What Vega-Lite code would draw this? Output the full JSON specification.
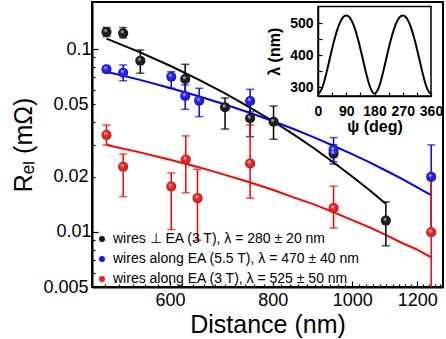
{
  "$schema": "https://vega.github.io/schema/vega-lite/v6.json",
  "width": 351,
  "height": 285,
  "autosize": {"type": "none"},
  "padding": {"left": 92, "top": 2, "right": 3, "bottom": 52},
  "config": {
    "view": {"stroke": "black", "strokeWidth": 2},
    "font": "Liberation Sans",
    "axis": {"labelFont": "Liberation Sans", "titleFont": "Liberation Sans", "domainColor": "black", "tickColor": "black", "labelColor": "black", "titleColor": "black", "grid": false, "labelOverlap": false, "labelFlush": false}
  },
  "datasets": {
    "pts": [
      {"s": "k", "x": 502, "y": 0.124, "lo": 0.117, "hi": 0.131},
      {"s": "k", "x": 526, "y": 0.122, "lo": 0.115, "hi": 0.131},
      {"s": "k", "x": 552, "y": 0.0863, "lo": 0.0737, "hi": 0.0987},
      {"s": "k", "x": 626, "y": 0.0686, "lo": 0.0546, "hi": 0.0825},
      {"s": "k", "x": 700, "y": 0.048, "lo": 0.0365, "hi": 0.054},
      {"s": "k", "x": 751, "y": 0.0418, "lo": 0.0332, "hi": 0.0504},
      {"s": "k", "x": 802, "y": 0.040, "lo": 0.0321, "hi": 0.0488},
      {"s": "k", "x": 949, "y": 0.0268, "lo": 0.0235, "hi": 0.030},
      {"s": "k", "x": 1099, "y": 0.01153, "lo": 0.0084, "hi": 0.0146},
      {"s": "b", "x": 502, "y": 0.0775, "lo": 0.0745, "hi": 0.0805},
      {"s": "b", "x": 526, "y": 0.0742, "lo": 0.0671, "hi": 0.0818},
      {"s": "b", "x": 602, "y": 0.0706, "lo": 0.061, "hi": 0.0752},
      {"s": "b", "x": 626, "y": 0.0554, "lo": 0.0468, "hi": 0.0636},
      {"s": "b", "x": 651, "y": 0.0522, "lo": 0.0427, "hi": 0.061},
      {"s": "b", "x": 751, "y": 0.052, "lo": 0.0454, "hi": 0.0602},
      {"s": "b", "x": 949, "y": 0.0281, "lo": 0.0242, "hi": 0.0328},
      {"s": "b", "x": 1248, "y": 0.020, "lo": 0.0101, "hi": 0.0299},
      {"s": "r", "x": 502, "y": 0.0339, "lo": 0.0299, "hi": 0.0384},
      {"s": "r", "x": 526, "y": 0.0227, "lo": 0.0156, "hi": 0.0267},
      {"s": "r", "x": 602, "y": 0.0177, "lo": 0.0103, "hi": 0.021},
      {"s": "r", "x": 627, "y": 0.0249, "lo": 0.0164, "hi": 0.0335},
      {"s": "r", "x": 648, "y": 0.0153, "lo": 0.009, "hi": 0.022},
      {"s": "r", "x": 751, "y": 0.0237, "lo": 0.0153, "hi": 0.0384},
      {"s": "r", "x": 949, "y": 0.0135, "lo": 0.0105, "hi": 0.0178},
      {"s": "r", "x": 1248, "y": 0.00996, "lo": 0.004, "hi": 0.0196}
    ],
    "fit": [
      {"s": "k", "x": 502, "y": 0.114}, {"s": "k", "x": 550, "y": 0.0964}, {"s": "k", "x": 600, "y": 0.081},
      {"s": "k", "x": 650, "y": 0.0681}, {"s": "k", "x": 700, "y": 0.0572}, {"s": "k", "x": 750, "y": 0.048},
      {"s": "k", "x": 800, "y": 0.0404}, {"s": "k", "x": 850, "y": 0.0339}, {"s": "k", "x": 900, "y": 0.0285},
      {"s": "k", "x": 950, "y": 0.0239}, {"s": "k", "x": 1000, "y": 0.0201}, {"s": "k", "x": 1050, "y": 0.0169},
      {"s": "k", "x": 1099, "y": 0.01424},
      {"s": "b", "x": 502, "y": 0.0751}, {"s": "b", "x": 550, "y": 0.068}, {"s": "b", "x": 600, "y": 0.0612},
      {"s": "b", "x": 650, "y": 0.0552}, {"s": "b", "x": 700, "y": 0.0497}, {"s": "b", "x": 750, "y": 0.0448},
      {"s": "b", "x": 800, "y": 0.0404}, {"s": "b", "x": 850, "y": 0.0364}, {"s": "b", "x": 900, "y": 0.0328},
      {"s": "b", "x": 950, "y": 0.0295}, {"s": "b", "x": 1000, "y": 0.0266}, {"s": "b", "x": 1050, "y": 0.024},
      {"s": "b", "x": 1100, "y": 0.0216}, {"s": "b", "x": 1150, "y": 0.0195}, {"s": "b", "x": 1200, "y": 0.0175},
      {"s": "b", "x": 1248, "y": 0.0159},
      {"s": "r", "x": 502, "y": 0.0299}, {"s": "r", "x": 550, "y": 0.0273}, {"s": "r", "x": 600, "y": 0.0248},
      {"s": "r", "x": 650, "y": 0.0226}, {"s": "r", "x": 700, "y": 0.0205}, {"s": "r", "x": 750, "y": 0.0187},
      {"s": "r", "x": 800, "y": 0.017}, {"s": "r", "x": 850, "y": 0.0154}, {"s": "r", "x": 900, "y": 0.0141},
      {"s": "r", "x": 950, "y": 0.0128}, {"s": "r", "x": 1000, "y": 0.0116}, {"s": "r", "x": 1050, "y": 0.0106},
      {"s": "r", "x": 1100, "y": 0.0096}, {"s": "r", "x": 1150, "y": 0.0087}, {"s": "r", "x": 1200, "y": 0.008},
      {"s": "r", "x": 1248, "y": 0.00726}
    ],
    "psi": [
      {"p": 0, "l": 280}, {"p": 5, "l": 282.7}, {"p": 10, "l": 290.4}, {"p": 15, "l": 302.7}, {"p": 20, "l": 318.5},
      {"p": 25, "l": 337.1}, {"p": 30, "l": 357.4}, {"p": 35, "l": 378.5}, {"p": 40, "l": 399.9}, {"p": 45, "l": 420.7},
      {"p": 50, "l": 440.6}, {"p": 55, "l": 459.1}, {"p": 60, "l": 475.7}, {"p": 65, "l": 490.3}, {"p": 70, "l": 502.5},
      {"p": 75, "l": 512.3}, {"p": 80, "l": 519.3}, {"p": 85, "l": 523.6}, {"p": 90, "l": 525},
      {"p": 95, "l": 523.6}, {"p": 100, "l": 519.3}, {"p": 105, "l": 512.3}, {"p": 110, "l": 502.5}, {"p": 115, "l": 490.3},
      {"p": 120, "l": 475.7}, {"p": 125, "l": 459.1}, {"p": 130, "l": 440.6}, {"p": 135, "l": 420.7}, {"p": 140, "l": 399.9},
      {"p": 145, "l": 378.5}, {"p": 150, "l": 357.4}, {"p": 155, "l": 337.1}, {"p": 160, "l": 318.5}, {"p": 165, "l": 302.7},
      {"p": 170, "l": 290.4}, {"p": 175, "l": 282.7}, {"p": 180, "l": 280},
      {"p": 185, "l": 282.7}, {"p": 190, "l": 290.4}, {"p": 195, "l": 302.7}, {"p": 200, "l": 318.5},
      {"p": 205, "l": 337.1}, {"p": 210, "l": 357.4}, {"p": 215, "l": 378.5}, {"p": 220, "l": 399.9}, {"p": 225, "l": 420.7},
      {"p": 230, "l": 440.6}, {"p": 235, "l": 459.1}, {"p": 240, "l": 475.7}, {"p": 245, "l": 490.3}, {"p": 250, "l": 502.5},
      {"p": 255, "l": 512.3}, {"p": 260, "l": 519.3}, {"p": 265, "l": 523.6}, {"p": 270, "l": 525},
      {"p": 275, "l": 523.6}, {"p": 280, "l": 519.3}, {"p": 285, "l": 512.3}, {"p": 290, "l": 502.5}, {"p": 295, "l": 490.3},
      {"p": 300, "l": 475.7}, {"p": 305, "l": 459.1}, {"p": 310, "l": 440.6}, {"p": 315, "l": 420.7}, {"p": 320, "l": 399.9},
      {"p": 325, "l": 378.5}, {"p": 330, "l": 357.4}, {"p": 335, "l": 337.1}, {"p": 340, "l": 318.5}, {"p": 345, "l": 302.7},
      {"p": 350, "l": 290.4}, {"p": 355, "l": 282.7}, {"p": 360, "l": 280}
    ],
    "frame": [{"a": 0, "b": 360, "c": 272, "d": 553}]
  },
  "layer": [
    {
      "layer": [
        {
          "data": {"name": "fit"},
          "mark": {"type": "line", "strokeWidth": 2},
          "encoding": {
            "x": {"field": "x", "type": "quantitative", "title": "Distance (nm)",
              "scale": {"type": "log", "domain": [482, 1290], "nice": false},
              "axis": {"orient": "bottom", "values": [500,520,540,560,580,600,620,640,660,680,700,720,740,760,780,800,820,840,860,880,900,920,940,960,980,1000,1020,1040,1060,1080,1100,1120,1140,1160,1180,1200,1220,1240,1260,1280],
                "labelExpr": "datum.value % 200 === 0 ? '' + datum.value : ''",
                "labelFontSize": 18, "labelPadding": 10, "domainWidth": 2,
                "tickSize": {"condition": {"test": "datum.value % 200 === 0", "value": -6}, "value": -3},
                "tickWidth": 1.2, "titleFontSize": 25, "titleFontWeight": "normal", "titlePadding": 0}},
            "y": {"field": "y", "type": "quantitative", "title": "Rₑₗ (mΩ)",
              "scale": {"type": "log", "domain": [0.005, 0.1807], "nice": false},
              "axis": {"orient": "left", "values": [0.005,0.006,0.007,0.008,0.009,0.01,0.02,0.03,0.04,0.05,0.06,0.07,0.08,0.09,0.1],
                "labelExpr": "indexof([0.005,0.01,0.02,0.05,0.1], datum.value) >= 0 ? '' + datum.value : ''",
                "labelFontSize": 18, "labelPadding": 7, "domainWidth": 2,
                "tickSize": {"condition": {"test": "datum.value === 0.01 || datum.value === 0.1", "value": -6}, "value": -3},
                "tickWidth": 1.2, "titleFontSize": 25, "titleFontWeight": "normal", "titlePadding": 6}},
            "stroke": {"field": "s", "type": "nominal", "scale": {"domain": ["k", "b", "r", "_s"], "range": ["#000000", "#0000ff", "#ff0000", "#000000"]}, "legend": null},
            "detail": {"field": "s"}
          }
        },
        {
          "data": {"name": "pts"},
          "mark": {"type": "errorbar", "clip": true, "thickness": 1.5, "ticks": {"size": 8, "thickness": 1.5}},
          "encoding": {
            "x": {"field": "x", "type": "quantitative", "title": "Distance (nm)", "scale": {"type": "log", "domain": [482, 1290], "nice": false}},
            "y": {"field": "lo", "type": "quantitative", "title": "Rₑₗ (mΩ)", "scale": {"type": "log", "domain": [0.005, 0.1807], "nice": false}},
            "y2": {"field": "hi"},
            "color": {"field": "s", "type": "nominal", "scale": {"domain": ["k", "b", "r", "_c"], "range": ["#000000", "#0000ff", "#ff0000", "#000000"]}, "legend": null}
          }
        },
        {
          "data": {"name": "pts"},
          "mark": {"type": "point", "shape": "circle", "filled": true, "size": 100, "opacity": 1},
          "encoding": {
            "x": {"field": "x", "type": "quantitative", "title": "Distance (nm)", "scale": {"type": "log", "domain": [482, 1290], "nice": false}},
            "y": {"field": "y", "type": "quantitative", "title": "Rₑₗ (mΩ)", "scale": {"type": "log", "domain": [0.005, 0.1807], "nice": false}},
            "fill": {"field": "s", "type": "nominal",
              "scale": {"domain": ["k", "b", "r"], "range": ["#111111", "#1414f5", "#f01818"]},
              "legend": {"orient": "none", "legendX": 3, "legendY": 230, "title": null, "zindex": 5,
                "labelFont": "Liberation Sans", "labelFontSize": 14, "labelColor": "black", "labelLimit": 400,
                "symbolSize": 35, "symbolType": "circle", "rowPadding": 6, "labelOffset": 4, "symbolOpacity": 1,
                "labelExpr": "datum.value === 'k' ? 'wires ⊥ EA (3 T), λ = 280 ± 20 nm' : datum.value === 'b' ? 'wires along EA (5.5 T), λ = 470 ± 40 nm' : 'wires along EA (3 T), λ = 525 ± 50 nm'"}}
          }
        },
        {
          "data": {"name": "pts"},
          "mark": {"type": "point", "shape": "circle", "filled": true, "size": 100, "opacity": 1, "strokeWidth": 0,
            "fill": {"gradient": "radial", "x1": 0.38, "y1": 0.32, "r1": 0, "x2": 0.5, "y2": 0.5, "r2": 0.5,
              "stops": [{"offset": 0, "color": "rgba(255,255,255,0.9)"}, {"offset": 0.45, "color": "rgba(255,255,255,0)"}, {"offset": 1, "color": "rgba(0,0,0,0.3)"}]}},
          "encoding": {
            "x": {"field": "x", "type": "quantitative", "title": "Distance (nm)", "scale": {"type": "log", "domain": [482, 1290], "nice": false}},
            "y": {"field": "y", "type": "quantitative", "title": "Rₑₗ (mΩ)", "scale": {"type": "log", "domain": [0.005, 0.1807], "nice": false}}
          }
        }
      ]
    },
    {
      "layer": [
        {
          "data": {"name": "frame"},
          "mark": {"type": "rect", "fill": "white", "stroke": "black", "strokeWidth": 1.5},
          "encoding": {
            "x": {"field": "a", "type": "quantitative", "title": "ψ (deg)",
              "scale": {"domain": [0, 360], "range": [226, 339], "nice": false, "zero": false},
              "axis": {"orient": "bottom", "offset": -191, "zindex": 2, "values": [0,45,90,135,180,225,270,315,360],
                "labelExpr": "datum.value % 90 === 0 ? '' + datum.value : ''",
                "labelFontSize": 14, "labelFontWeight": "bold", "labelPadding": 12, "tickSize": -4, "tickWidth": 1.2, "domainWidth": 1.5,
                "titleFontSize": 16, "titleFontWeight": "bold", "titlePadding": 0}},
            "x2": {"field": "b"},
            "y": {"field": "c", "type": "quantitative", "title": "λ (nm)",
              "scale": {"domain": [272, 553], "range": [94, 4.5], "nice": false, "zero": false},
              "axis": {"orient": "left", "offset": -226, "zindex": 2, "values": [300,350,400,450,500],
                "labelExpr": "datum.value % 100 === 0 ? '' + datum.value : ''",
                "labelFontSize": 14, "labelFontWeight": "bold", "labelPadding": 9, "tickSize": -4, "tickWidth": 1.2, "domainWidth": 1.5,
                "titleFontSize": 16, "titleFontWeight": "bold", "titlePadding": 7}},
            "y2": {"field": "d"}
          }
        },
        {
          "data": {"name": "psi"},
          "mark": {"type": "line", "color": "black", "strokeWidth": 2, "interpolate": "monotone"},
          "encoding": {
            "x": {"field": "p", "type": "quantitative", "title": "ψ (deg)", "scale": {"domain": [0, 360], "range": [226, 339], "nice": false, "zero": false}},
            "y": {"field": "l", "type": "quantitative", "title": "λ (nm)", "scale": {"domain": [272, 553], "range": [94, 4.5], "nice": false, "zero": false}}
          }
        }
      ]
    }
  ],
  "resolve": {"scale": {"x": "independent", "y": "independent"}}
}
